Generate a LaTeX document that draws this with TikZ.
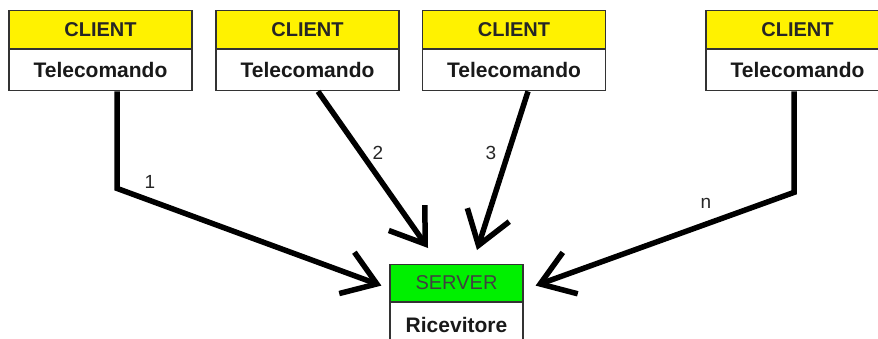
\documentclass[tikz,border=0pt]{standalone}
\usepackage{fontspec}
\setmainfont{Liberation Sans}
\usetikzlibrary{arrows.meta}

\begin{document}
\begin{tikzpicture}[x=1pt, y=-1pt,
  head/.style={draw=black!80, line width=1.2pt, fill=yellow, minimum width=183pt,
    minimum height=38pt, inner sep=0pt, anchor=north,
    font=\bfseries\fontsize{20}{22}\selectfont, text=black!85},
  body/.style={draw=black!80, line width=1.2pt, fill=white, minimum width=183pt,
    minimum height=41pt, inner sep=0pt, anchor=north,
    font=\bfseries\fontsize{21}{23}\selectfont, text=black!90},
  link/.style={line width=5.5pt, -{Straight Barb[length=32pt, width=44pt]}},
  num/.style={font=\fontsize{19}{21}\selectfont, text=black!85}]
  \useasboundingbox[fill=white] (0,0) rectangle (878,338);

  % clients
  \node[head] (h1) at (100.5,10) {CLIENT};
  \node[body] (c1) at (h1.south) {Telecomando};
  \node[head] (h2) at (307.5,10) {CLIENT};
  \node[body] (c2) at (h2.south) {Telecomando};
  \node[head] (h3) at (514,10) {CLIENT};
  \node[body] (c3) at (h3.south) {Telecomando};
  \node[head] (h4) at (797.5,10) {CLIENT};
  \node[body] (c4) at (h4.south) {Telecomando};

  % server
  \node[head, font=\fontsize{20}{22}\selectfont, fill=green!90!black!60!green,
    minimum width=133pt, minimum height=37pt, text=black!75] (s0) at (456.5,264) {SERVER};
  \node[body, minimum width=133pt, minimum height=44pt] (s1) at (s0.south) {Ricevitore};

  % links
  \draw[link] ([xshift=16.5pt]c1.south) -- ++(0,97)
    -- ([xshift=-8pt, yshift=-2.5pt]s0.west);
  \draw[link] ([xshift=10.5pt]c2.south) -- ([xshift=-28.5pt, yshift=16pt]s0.north);
  \draw[link] ([xshift=14pt]c3.south) -- ([xshift=20.5pt, yshift=14pt]s0.north);
  \draw[link] ([xshift=-3.5pt]c4.south) -- ++(0,101)
    -- ([xshift=12pt, yshift=-2.5pt]s0.east);

  \node[num] (l1) at (150,182) {1};
  \node[num] (l2) at (378,153) {2};
  \node[num] (l3) at (491,153) {3};
  \node[num] (ln) at (706,203) {n};
\end{tikzpicture}
\end{document}
